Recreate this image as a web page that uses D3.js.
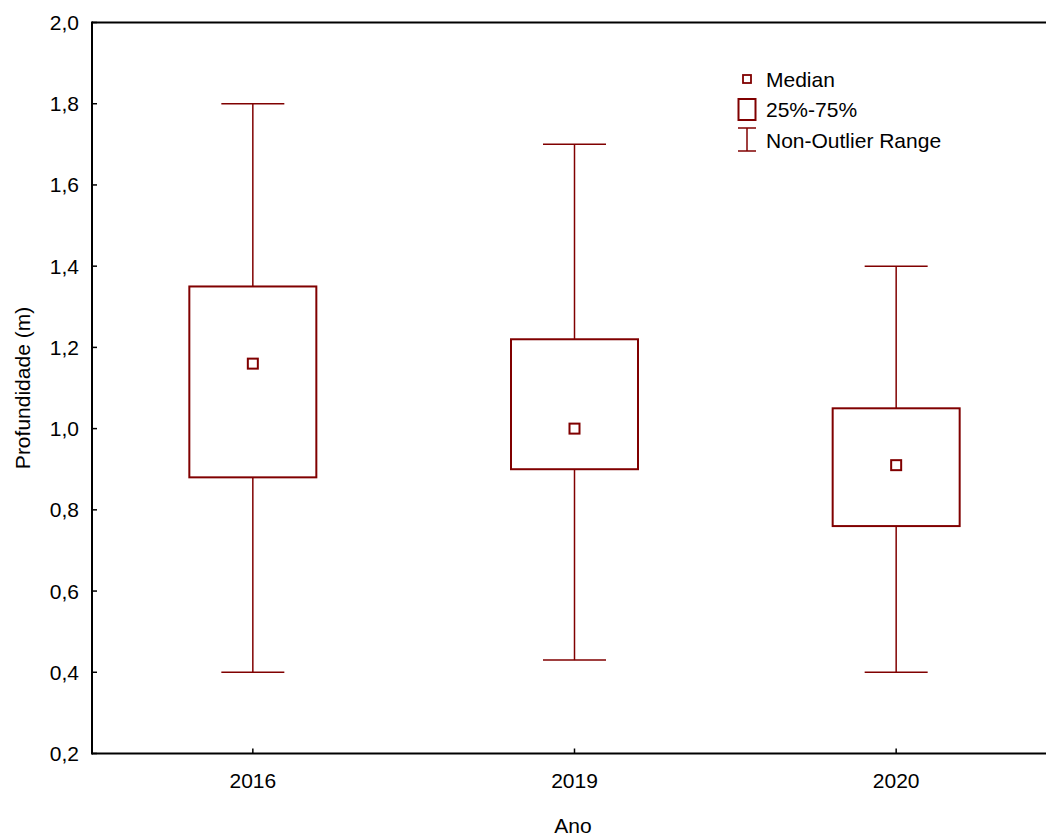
<!DOCTYPE html>
<html>
<head>
<meta charset="utf-8">
<script src="https://cdn.jsdelivr.net/npm/d3@7"></script>
<style>
  body { margin: 0; background: #fff; }
  text { font-family: "Liberation Sans", Arial, sans-serif; fill: #000; }
</style>
</head>
<body>
<div id="chart"></div>
<script>
// data
var years = ["2016", "2019", "2020"]
var medians = [1.16, 1.00, 0.91]
var q25 = [0.88, 0.90, 0.76]
var q75 = [1.35, 1.22, 1.05]
var minNonOutlier = [0.40, 0.43, 0.40]
var maxNonOutlier = [1.80, 1.70, 1.40]
var yTicks = [0.2, 0.4, 0.6, 0.8, 1.0, 1.2, 1.4, 1.6, 1.8, 2.0]
var legendItems = ["Median", "25%-75%", "Non-Outlier Range"]

var width = 1046, height = 836
var dark = "#800000"
var fs = "21px"

var svg = d3.select("#chart")
  .append("svg")
    .attr("width", width)
    .attr("height", height)

var plotLeft = 92, plotTop = 22.5, plotBottom = 753.5

// x: point scale, the plot runs past the right edge
var x = d3.scalePoint()
  .domain(years)
  .range([plotLeft, 1057])
  .padding(0.5)

var y = d3.scaleLinear()
  .domain([0.2, 2.0])
  .range([plotBottom, plotTop])

var boxW = 127, capW = 63

// frame lines (left, top, bottom)
svg.append("line").attr("x1", plotLeft).attr("x2", plotLeft).attr("y1", plotTop - 1).attr("y2", plotBottom + 1)
  .attr("stroke", "#000").attr("stroke-width", 2)
svg.append("line").attr("x1", plotLeft).attr("x2", width).attr("y1", plotTop).attr("y2", plotTop)
  .attr("stroke", "#000").attr("stroke-width", 2)
svg.append("line").attr("x1", plotLeft).attr("x2", width).attr("y1", plotBottom).attr("y2", plotBottom)
  .attr("stroke", "#000").attr("stroke-width", 2)

// y axis ticks + labels
var yAxis = svg.append("g")
yAxis.selectAll("line")
  .data(yTicks)
  .enter().append("line")
    .attr("x1", plotLeft).attr("x2", plotLeft + 5)
    .attr("y1", function(d) { return y(d) }).attr("y2", function(d) { return y(d) })
    .attr("stroke", "#000").attr("stroke-width", 1.5)
yAxis.selectAll("text")
  .data(yTicks)
  .enter().append("text")
    .attr("x", 79)
    .attr("y", function(d) { return y(d) })
    .attr("text-anchor", "end")
    .attr("dominant-baseline", "central")
    .style("font-size", fs)
    .text(function(d) { return d3.format(".1f")(d).replace(".", ",") })

// x axis ticks + labels
var xAxis = svg.append("g")
xAxis.selectAll("line")
  .data(years)
  .enter().append("line")
    .attr("x1", function(d) { return x(d) }).attr("x2", function(d) { return x(d) })
    .attr("y1", plotBottom).attr("y2", plotBottom - 5)
    .attr("stroke", "#000").attr("stroke-width", 1.5)
xAxis.selectAll("text")
  .data(years)
  .enter().append("text")
    .attr("x", function(d) { return x(d) })
    .attr("y", 780)
    .attr("text-anchor", "middle")
    .attr("dominant-baseline", "central")
    .style("font-size", fs)
    .text(function(d) { return d })

// axis titles
svg.append("text")
  .attr("x", 573).attr("y", 825)
  .attr("text-anchor", "middle")
  .attr("dominant-baseline", "central")
  .style("font-size", fs)
  .text("Ano")
svg.append("text")
  .attr("transform", "translate(22,388) rotate(-90)")
  .attr("text-anchor", "middle")
  .attr("dominant-baseline", "central")
  .style("font-size", fs)
  .text("Profundidade (m)")

// boxes
var boxes = svg.append("g")
  .selectAll("g")
  .data(years)
  .enter().append("g")

// whisker stems
boxes.append("line")
  .attr("x1", function(d) { return x(d) }).attr("x2", function(d) { return x(d) })
  .attr("y1", function(d, i) { return y(maxNonOutlier[i]) })
  .attr("y2", function(d, i) { return y(q75[i]) })
  .attr("stroke", dark).attr("stroke-width", 1.5)
boxes.append("line")
  .attr("x1", function(d) { return x(d) }).attr("x2", function(d) { return x(d) })
  .attr("y1", function(d, i) { return y(q25[i]) })
  .attr("y2", function(d, i) { return y(minNonOutlier[i]) })
  .attr("stroke", dark).attr("stroke-width", 1.5)
// caps
boxes.append("line")
  .attr("x1", function(d) { return x(d) - capW / 2 }).attr("x2", function(d) { return x(d) + capW / 2 })
  .attr("y1", function(d, i) { return y(maxNonOutlier[i]) })
  .attr("y2", function(d, i) { return y(maxNonOutlier[i]) })
  .attr("stroke", dark).attr("stroke-width", 1.5)
boxes.append("line")
  .attr("x1", function(d) { return x(d) - capW / 2 }).attr("x2", function(d) { return x(d) + capW / 2 })
  .attr("y1", function(d, i) { return y(minNonOutlier[i]) })
  .attr("y2", function(d, i) { return y(minNonOutlier[i]) })
  .attr("stroke", dark).attr("stroke-width", 1.5)
// 25-75 box
boxes.append("rect")
  .attr("x", function(d) { return x(d) - boxW / 2 })
  .attr("y", function(d, i) { return y(q75[i]) })
  .attr("width", boxW)
  .attr("height", function(d, i) { return y(q25[i]) - y(q75[i]) })
  .attr("fill", "none").attr("stroke", dark).attr("stroke-width", 2)
// median marker
boxes.append("rect")
  .attr("x", function(d) { return x(d) - 5 })
  .attr("y", function(d, i) { return y(medians[i]) - 5 })
  .attr("width", 10).attr("height", 10)
  .attr("fill", "none").attr("stroke", dark).attr("stroke-width", 2)

// legend
var lg = svg.append("g").attr("transform", "translate(747,79)")
lg.append("rect").attr("x", -4).attr("y", -4).attr("width", 8).attr("height", 8)
  .attr("fill", "none").attr("stroke", dark).attr("stroke-width", 1.8)
lg.append("rect").attr("x", -8.5).attr("y", 20).attr("width", 17).attr("height", 21)
  .attr("fill", "none").attr("stroke", dark).attr("stroke-width", 2)
lg.append("line").attr("x1", 0).attr("x2", 0).attr("y1", 49).attr("y2", 72)
  .attr("stroke", dark).attr("stroke-width", 1.5)
lg.append("line").attr("x1", -9).attr("x2", 9).attr("y1", 49).attr("y2", 49)
  .attr("stroke", dark).attr("stroke-width", 1.5)
lg.append("line").attr("x1", -9).attr("x2", 9).attr("y1", 72).attr("y2", 72)
  .attr("stroke", dark).attr("stroke-width", 1.5)
lg.selectAll("text")
  .data(legendItems)
  .enter().append("text")
    .attr("x", 19)
    .attr("y", function(d, i) { return i * 30.5 })
    .attr("dominant-baseline", "central")
    .style("font-size", fs)
    .text(function(d) { return d })
</script>
</body>
</html>
